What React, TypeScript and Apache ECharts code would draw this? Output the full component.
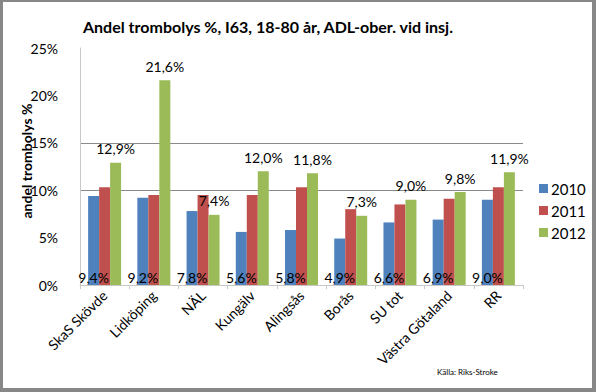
import React, { useEffect, useRef } from "react";
import * as echarts from "echarts";

const categories = ["SkaS Skövde", "Lidköping", "NÄL", "Kungälv", "Alingsås", "Borås", "SU tot", "Västra Götaland", "RR"];
const seriesNames = ["2010", "2011", "2012"];
const values2010 = [9.4, 9.2, 7.8, 5.6, 5.8, 4.9, 6.6, 6.9, 9.0];
const values2011 = [10.3, 9.5, 9.5, 9.5, 10.3, 8.0, 8.5, 9.1, 10.3];
const values2012 = [12.9, 21.6, 7.4, 12.0, 11.8, 7.3, 9.0, 9.8, 11.9];
const colors = ["#4F81BD", "#C0504D", "#9BBB59"];
const FONT = "Lato";

const fmt = (v: number) => v.toFixed(1).replace(".", ",") + "%";

export default function App() {
  const ref = useRef<HTMLDivElement>(null);
  useEffect(() => {
    if (!ref.current) return;
    const chart = echarts.init(ref.current, undefined, { renderer: "svg" });
    const border = "#878787";
    chart.setOption({
      animation: false,
      backgroundColor: "#ffffff",
      textStyle: { fontFamily: FONT },
      title: {
        text: "Andel trombolys %, I63, 18-80 år, ADL-ober. vid insj.",
        left: 78,
        top: 13,
        textStyle: { fontFamily: FONT, fontSize: 16, fontWeight: "bold", color: "#000" },
      },
      legend: {
        orient: "vertical",
        left: 534,
        top: 176,
        itemWidth: 9,
        itemHeight: 9,
        itemGap: 7,
        icon: "rect",
        data: seriesNames,
        textStyle: { fontFamily: FONT, fontSize: 15, color: "#000", padding: [0, 0, 0, -2] },
      },
      grid: { left: 80, right: 73, top: 48, bottom: 107, containLabel: false },
      xAxis: {
        type: "category",
        data: categories,
        axisLine: { lineStyle: { color: "#c8c8c8", width: 1 } },
        axisTick: { show: true, length: 4, lineStyle: { color: "#c8c8c8" } },
        axisLabel: { interval: 0, rotate: 45, fontSize: 14, color: "#000", fontFamily: FONT, margin: 8 },
      },
      yAxis: {
        type: "value",
        min: 0,
        max: 25,
        interval: 5,
        axisLine: { show: true, lineStyle: { color: "#c8c8c8" } },
        axisTick: { show: false },
        axisLabel: { formatter: "{value}%", fontSize: 14, color: "#000", fontFamily: FONT, margin: 22 },
        splitLine: {
          show: true,
          lineStyle: { color: ["transparent", "transparent", "#8a8a8a", "#8a8a8a", "transparent", "transparent"] },
        },
      },
      graphic: [
        {
          type: "text",
          x: 26,
          y: 161,
          rotation: Math.PI / 2,
          style: {
            text: "andel trombolys %",
            fontFamily: FONT,
            fontSize: 14,
            fontWeight: "bold",
            fill: "#000",
            textAlign: "center",
            textVerticalAlign: "middle",
          },
        },
        {
          type: "text",
          left: 437,
          top: 368,
          style: { text: "Källa: Riks-Stroke", fontFamily: FONT, fontSize: 8, fill: "#000" },
        },
        { type: "rect", shape: { x: 0, y: 0, width: 596, height: 2 }, style: { fill: border } },
        { type: "rect", shape: { x: 0, y: 388, width: 596, height: 4 }, style: { fill: border } },
        { type: "rect", shape: { x: 0, y: 0, width: 3, height: 392 }, style: { fill: border } },
        { type: "rect", shape: { x: 592, y: 0, width: 4, height: 392 }, style: { fill: border } },
      ],
      series: [
        {
          name: seriesNames[0],
          type: "bar",
          data: values2010,
          itemStyle: { color: colors[0] },
          barGap: "0%",
          barCategoryGap: "33%",
          label: {
            show: true,
            position: "insideBottom",
            distance: 1,
            formatter: (p: any) => fmt(p.value),
            fontSize: 14,
            color: "#000",
            fontFamily: FONT,
          },
        },
        {
          name: seriesNames[1],
          type: "bar",
          data: values2011,
          itemStyle: { color: colors[1] },
          barGap: "0%",
          barCategoryGap: "33%",
        },
        {
          name: seriesNames[2],
          type: "bar",
          data: values2012,
          itemStyle: { color: colors[2] },
          barGap: "0%",
          barCategoryGap: "33%",
          label: {
            show: true,
            position: "top",
            distance: 7,
            formatter: (p: any) => fmt(p.value),
            fontSize: 14,
            color: "#000",
            fontFamily: FONT,
          },
        },
      ],
    });
    return () => chart.dispose();
  }, []);
  return <div ref={ref} style={{ position: "fixed", left: 0, top: 0, width: 596, height: 392 }} />;
}
